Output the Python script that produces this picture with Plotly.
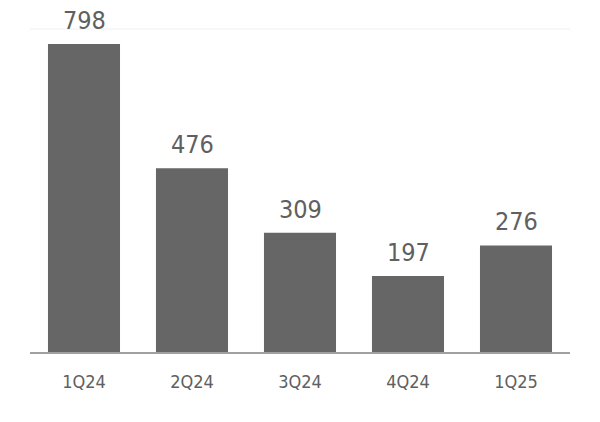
import plotly.graph_objects as go

categories = ["1Q24", "2Q24", "3Q24", "4Q24", "1Q25"]
values = [798, 476, 309, 197, 276]
value_labels = ["798", "476", "309", "197", "276"]

FONT = "DejaVu Sans Condensed, Liberation Sans Narrow, sans-serif"
BAR = "#666666"
TXT = "#606060"

fig = go.Figure(go.Bar(x=categories, y=values, marker=dict(color=BAR, line=dict(width=0)),
                       hoverinfo="skip"))

for c, v, t in zip(categories, values, value_labels):
    fig.add_annotation(x=c, y=v, text=t, showarrow=False, yanchor="bottom", yshift=7,
                       font=dict(family=FONT, size=25, color=TXT))

fig.add_shape(type="line", xref="paper", yref="paper", x0=0, x1=1, y0=1, y1=1,
              line=dict(color="#f0f0f0", width=1))

fig.update_layout(
    width=600, height=422,
    margin=dict(l=30, r=30, t=29, b=70),
    paper_bgcolor="white", plot_bgcolor="white",
    bargap=0.333, showlegend=False,
    xaxis=dict(showline=True, linecolor="#a0a0a0", linewidth=2, showgrid=False,
               ticks="", tickfont=dict(family=FONT, size=18, color=TXT),
               ticklabelstandoff=12),
    yaxis=dict(range=[0, 837], visible=False, showgrid=False, zeroline=False),
)

fig.write_html("out.html", config={"displayModeBar": False},
               post_script="document.body.style.margin='0';")
